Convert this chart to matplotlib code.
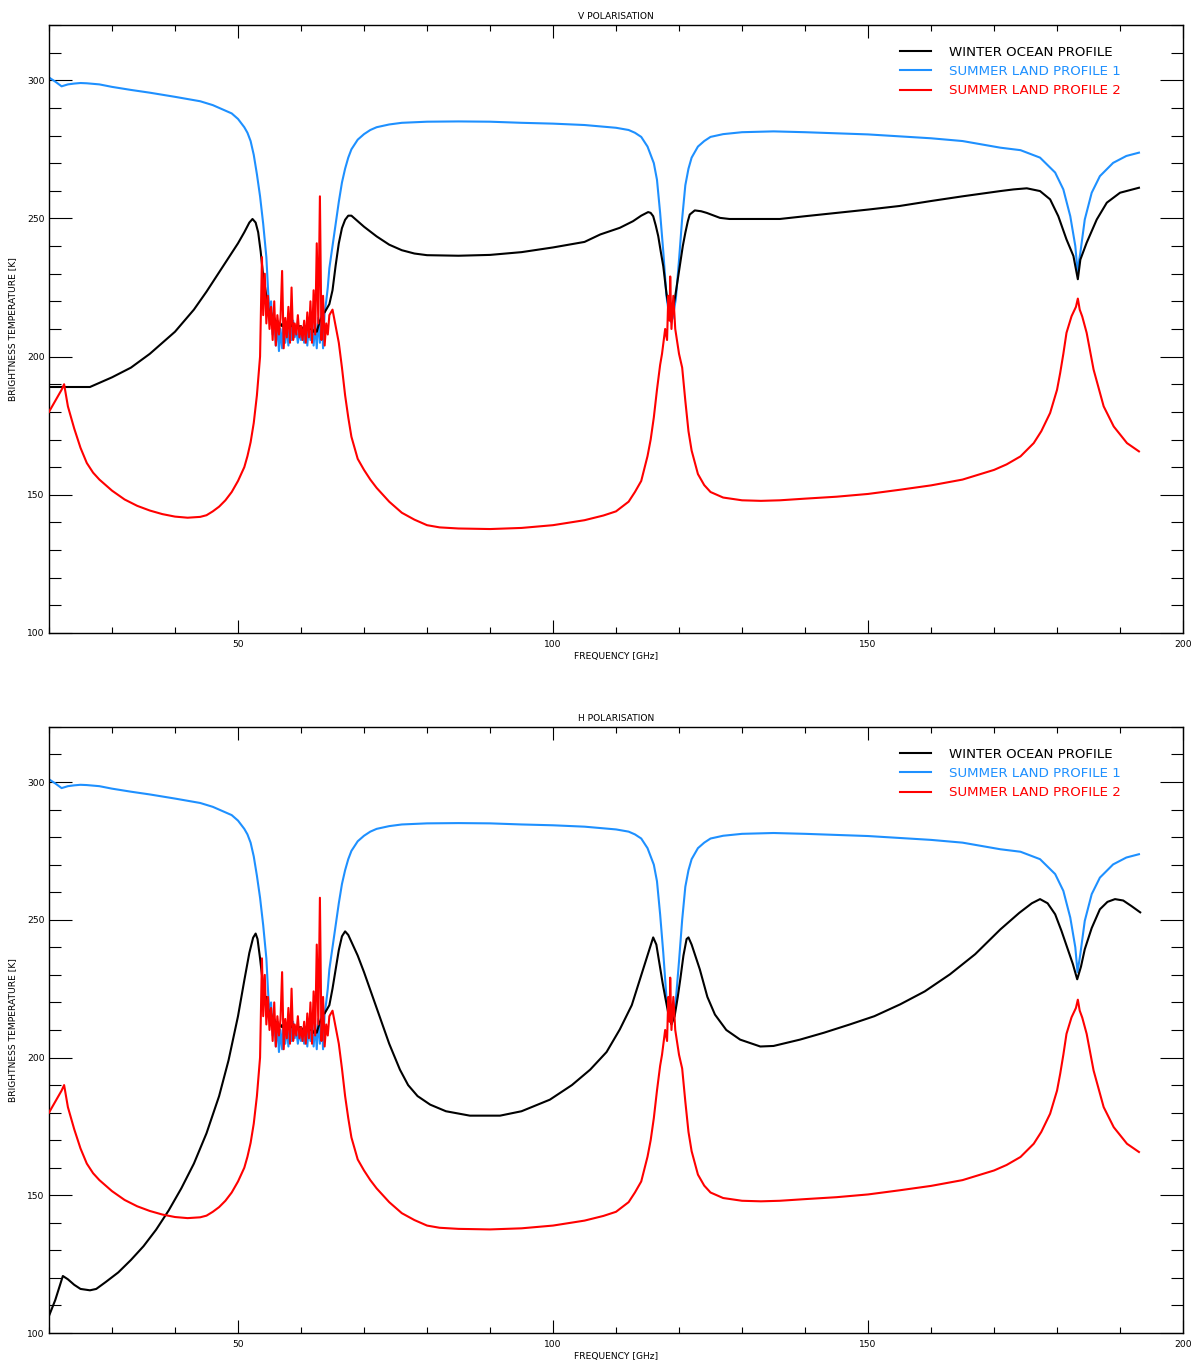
import numpy as np
import matplotlib
matplotlib.use("Agg")
import matplotlib.pyplot as plt
from matplotlib.ticker import MultipleLocator

# ---------------- DATA ----------------
# O2 band (54.5 - 64.5 GHz) sampled every 0.25 GHz
band_freq = [54.5 + 0.25 * i for i in range(41)]
band_black = [222, 218, 215, 216, 213, 214, 212, 213, 211, 212, 211, 212, 211, 212, 211, 212,
              211, 212, 211, 211, 211, 211, 211, 210, 210, 210, 210, 210, 210, 210, 209, 210,
              209, 211, 213, 214, 216, 216, 217, 218, 219]
band_blue = [236, 225, 215, 220, 208, 214, 204, 212, 202, 210, 203, 213, 205, 211, 204, 212,
             206, 213, 207, 210, 205, 209, 206, 210, 205, 211, 204, 212, 206, 214, 204, 212,
             203, 214, 205, 218, 203, 216, 220, 225, 232]
band_red = [212, 222, 210, 218, 206, 220, 204, 215, 208, 214, 231, 203, 214, 207, 218, 205,
            225, 206, 212, 208, 215, 207, 211, 206, 213, 205, 216, 207, 220, 205, 224, 208,
            241, 212, 258, 206, 222, 204, 212, 208, 215]

# Summer land profile 1 (same in V and H)
blue_freq_lo = [20, 21, 22, 23, 24, 25, 26, 28, 30, 33, 36, 40, 44, 46, 48, 49, 50, 51, 51.5, 52,
                52.5, 53, 53.5, 54]
blue_val_lo = [301, 299.5, 297.8, 298.5, 298.8, 299, 298.9, 298.5, 297.6, 296.5, 295.5, 294,
               292.4, 291, 289, 288, 286, 283, 281, 278, 273, 266, 258, 248]
blue_freq_hi = [65, 65.5, 66, 66.5, 67, 67.5, 68, 69, 70, 71, 72, 74, 76, 80, 85, 90, 95, 100, 105,
                110, 112, 113, 114, 115, 115.5, 116, 116.5, 117, 117.5, 118, 118.5, 118.75, 119,
                119.5, 120, 120.5, 121, 121.5, 122, 123, 124, 125, 127, 130, 135, 140, 150, 160,
                165, 171, 174.2, 177.3, 179.7, 181.0, 182.1, 182.9, 183.25, 183.7, 184.4, 185.5,
                186.8, 188.9, 191, 193]
blue_val_hi = [240, 248, 256, 263, 268, 272, 275, 278.5, 280.5, 282, 283, 284, 284.6, 285, 285.1,
               285, 284.6, 284.3, 283.8, 282.8, 282, 281, 279.5, 276, 273, 270, 264, 252, 238,
               222, 214, 212.5, 214, 221, 235, 250, 262, 268, 272, 276, 278, 279.5, 280.5, 281.2,
               281.5, 281.2, 280.4, 279, 278, 275.6, 274.7, 272, 266.6, 260.5, 250.8, 240, 231,
               237.6, 249.6, 259.3, 265.3, 270.1, 272.6, 273.8]

# Summer land profile 2 (same in V and H)
red_freq_lo = [20, 21, 22, 22.4, 23, 24, 25, 26, 27, 28, 30, 32, 34, 36, 38, 40, 42, 44, 45, 46,
               47, 48, 49, 50, 51, 51.5, 52, 52.5, 53, 53.5, 53.8, 54, 54.25]
red_val_lo = [180, 184, 188, 190, 182, 174, 167, 161.5, 158, 155.5, 151.5, 148.3, 146, 144.3, 143,
              142.1, 141.7, 142, 142.6, 144, 145.7, 148, 151, 155, 160, 164, 169, 176, 186, 200,
              236, 215, 230]
red_freq_hi = [65, 65.5, 66, 66.5, 67, 67.5, 68, 69, 70, 71, 72, 74, 76, 78, 80, 82, 85, 90, 95,
               100, 105, 108, 110, 112, 113, 114, 115, 115.5, 116, 116.5, 117, 117.3, 117.8,
               118.1, 118.3, 118.5, 118.6, 118.8, 119.1, 119.4, 119.6, 120, 120.5, 121, 121.5,
               122, 123, 124, 125, 127, 130, 133, 136, 140, 145, 150, 155, 160, 165, 170, 172,
               174.2, 176.3, 177.5, 178.9, 180, 180.5, 181, 181.5, 182.3, 183, 183.3, 183.6, 184,
               184.7, 185.8, 187.4, 189, 191.1, 193]
red_val_hi = [217, 211, 205, 196, 186, 178, 171, 163, 159, 155.5, 152.5, 147.5, 143.5, 141, 139,
              138.2, 137.8, 137.6, 138, 139, 140.8, 142.5, 144, 147.5, 151, 155, 164, 170, 178,
              188, 197, 201, 210, 206, 222, 213, 229, 210, 222, 210, 207, 201, 196, 184, 173, 166,
              157.5, 153.5, 151, 149, 148, 147.8, 148, 148.6, 149.3, 150.3, 151.8, 153.4, 155.5,
              159, 161, 163.9, 168.7, 173, 179.6, 188, 194.1, 201, 208.6, 214.6, 218, 221, 217,
              214.5, 208.6, 195.3, 182, 174.7, 168.7, 165.7]

# Winter ocean profile, V polarisation
blackV_freq_lo = [20, 22, 24, 26.5, 28, 30, 33, 36, 40, 43, 45, 47, 49, 50, 51, 51.8, 52.3, 52.8,
                  53.2, 53.6, 54, 54.3]
blackV_val_lo = [189, 189, 189, 189, 190.5, 192.5, 196, 201, 209, 217, 223.5, 230.5, 237.5, 241,
                 245, 248.5, 249.8, 248.5, 245, 238, 229, 225]
blackV_freq_hi = [65, 65.5, 66, 66.5, 67, 67.5, 68, 69, 70, 72, 74, 76, 78, 80, 85, 90, 95, 100,
                  105, 107.5, 110.6, 112.7, 114, 115.1, 115.5, 115.9, 116.3, 116.7, 117.1, 117.5,
                  118, 118.4, 118.8, 119.1, 119.4, 119.8, 120.2, 120.6, 121, 121.4, 121.7, 122.5,
                  123.5, 124.4, 126.5, 128, 131.3, 136, 140, 145, 150, 155, 160, 165, 171, 173.1,
                  175.2, 177.3, 178.9, 180.2, 181.5, 182.6, 183.1, 183.3, 183.7, 184.7, 186.3,
                  187.9, 190, 193]
blackV_val_hi = [224, 233, 241, 246.5, 249.5, 251, 251, 249, 247, 243.5, 240.5, 238.5, 237.3,
                 236.7, 236.5, 236.8, 237.8, 239.5, 241.5, 244.2, 246.6, 249, 251, 252.3, 252,
                 250.8, 247.5, 243.6, 238, 232.7, 223, 217, 214.6, 218, 221.9, 228, 234, 240,
                 244.8, 249, 251.4, 252.9, 252.6, 252, 250.2, 249.8, 249.8, 249.8, 250.8, 252,
                 253.2, 254.5, 256.3, 258, 259.9, 260.5, 260.9, 259.9, 256.9, 250.8, 242.4, 236.4,
                 230.3, 228, 235.1, 241.2, 249.6, 255.7, 259.3, 261.1]

# Winter ocean profile, H polarisation
blackH_freq_lo = [20, 21, 22.2, 23, 24, 25, 26.5, 27.5, 29, 31, 33, 35, 37, 39, 41, 43, 45, 47,
                  48.5, 50, 51, 51.8, 52.4, 52.8, 53.1, 53.5, 54, 54.3]
blackH_val_lo = [106.2, 112, 120.7, 119.5, 117.5, 116, 115.5, 116, 118.5, 122, 126.5, 131.5,
                 137.5, 144.5, 152.5, 161.5, 172.5, 186, 199, 215, 228, 238, 243.5, 245, 243, 236,
                 226, 222]
blackH_freq_hi = [65, 65.5, 66, 66.5, 67, 67.5, 68, 69, 70, 71, 72, 73, 74, 75.7, 77, 78.5, 80.5,
                  83, 86.8, 91.6, 95, 99.5, 103, 105.9, 108.5, 110.6, 112.5, 113.8, 115, 115.9,
                  116.4, 116.9, 117.4, 117.8, 118.3, 118.8, 119.3, 119.8, 120.2, 120.7, 121.2,
                  121.5, 122, 123.3, 124.5, 125.7, 127.5, 129.7, 132.9, 135, 139.2, 143, 147.1,
                  151, 155.1, 159, 163, 167, 171, 174, 176, 177.3, 178.5, 179.7, 180.7, 181.7,
                  182.5, 183.2, 183.8, 184.4, 185.5, 186.8, 188, 189.2, 190.5, 191.8, 193.2]
blackH_val_hi = [225, 232, 239, 244, 245.8, 244.5, 242, 237, 231, 224.5, 218, 211.5, 205, 195.6,
                 190, 186, 182.9, 180.5, 178.9, 178.9, 180.5, 184.7, 190, 195.6, 202, 210.2, 219,
                 228.4, 237, 243.6, 241, 234, 227, 222, 216, 212, 215, 222, 228.4, 237, 243,
                 243.6, 241, 232, 222, 215.6, 210, 206.5, 204, 204.2, 206.5, 209, 212, 215, 219.3,
                 224, 230.2, 237.5, 246.5, 252.5, 256, 257.5, 256, 252, 246, 239.3, 234, 228.4,
                 233, 239.3, 247, 253.8, 256.5, 257.5, 257, 255, 252.7]

labels = ["WINTER OCEAN PROFILE", "SUMMER LAND PROFILE 1", "SUMMER LAND PROFILE 2"]
titles = ["V POLARISATION", "H POLARISATION"]

# ---------------- FIGURE ----------------
C_BLACK = "#000000"
C_BLUE = "#1e90ff"
C_RED = "#ff0000"

fig = plt.figure(figsize=(11.95, 13.65), dpi=100)
ax_top = fig.add_axes([0.0410, 0.5363, 0.9490, 0.4454])
ax_bot = fig.add_axes([0.0410, 0.02344, 0.9490, 0.4440])

def series(lo_f, lo_v, band_v, hi_f, hi_v):
    return list(lo_f) + list(band_freq) + list(hi_f), list(lo_v) + list(band_v) + list(hi_v)

panels = [
    (ax_top, titles[0], blackV_freq_lo, blackV_val_lo, blackV_freq_hi, blackV_val_hi),
    (ax_bot, titles[1], blackH_freq_lo, blackH_val_lo, blackH_freq_hi, blackH_val_hi),
]

small = 6.6
for ax, title, bf_lo, bv_lo, bf_hi, bv_hi in panels:
    fx, vx = series(bf_lo, bv_lo, band_black, bf_hi, bv_hi)
    ax.plot(fx, vx, color=C_BLACK, lw=1.5, label=labels[0], zorder=3)
    fx, vx = series(blue_freq_lo, blue_val_lo, band_blue, blue_freq_hi, blue_val_hi)
    ax.plot(fx, vx, color=C_BLUE, lw=1.5, label=labels[1], zorder=2)
    fx, vx = series(red_freq_lo, red_val_lo, band_red, red_freq_hi, red_val_hi)
    ax.plot(fx, vx, color=C_RED, lw=1.5, label=labels[2], zorder=4)

    ax.set_xlim(20, 200)
    ax.set_ylim(100, 320)
    ax.xaxis.set_major_locator(MultipleLocator(50))
    ax.xaxis.set_minor_locator(MultipleLocator(10))
    ax.yaxis.set_major_locator(MultipleLocator(50))
    ax.yaxis.set_minor_locator(MultipleLocator(10))
    ax.tick_params(axis="x", which="major", direction="in", length=9.4, width=0.8,
                   top=True, bottom=True, labelsize=small, pad=5)
    ax.tick_params(axis="x", which="minor", direction="in", length=4.5, width=0.8,
                   top=True, bottom=True)
    ax.tick_params(axis="y", which="major", direction="in", length=16.5, width=0.8,
                   left=True, right=True, labelsize=small, pad=3)
    ax.tick_params(axis="y", which="minor", direction="in", length=8.6, width=0.8,
                   left=True, right=True)
    for sp in ax.spines.values():
        sp.set_linewidth(1.0)
    ax.set_title(title, fontsize=small, pad=4)
    ax.set_xlabel("FREQUENCY [GHz]", fontsize=small, labelpad=2)
    ax.set_ylabel("BRIGHTNESS TEMPERATURE [K]", fontsize=small, labelpad=7)

    leg = ax.legend(loc="upper left", bbox_to_anchor=(0.7504, 0.966), frameon=False,
                    fontsize=9.6, handlelength=2.3, handletextpad=1.4, labelspacing=0.48,
                    borderpad=0, borderaxespad=0, labelcolor="linecolor")

fig.savefig("out.png", dpi=100)
